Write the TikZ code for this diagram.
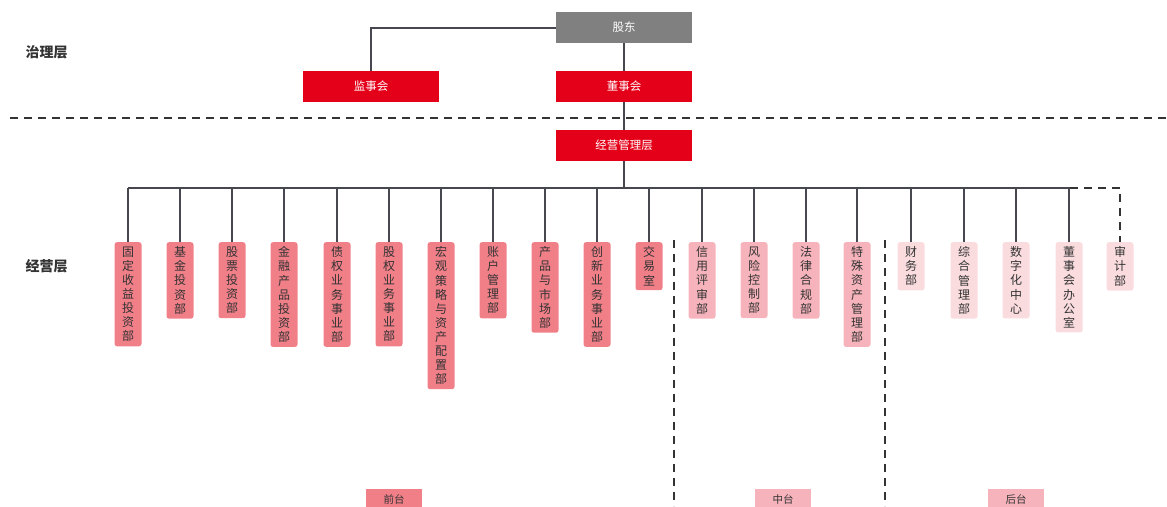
\documentclass[tikz,border=0pt]{standalone}
\usepackage{fontspec}
\newfontfamily\cjk{Noto Sans CJK SC}
\definecolor{cred}{HTML}{E50019}
\definecolor{cgray}{HTML}{808080}
\definecolor{cfront}{HTML}{F07F88}
\definecolor{cmid}{HTML}{F6B3BB}
\definecolor{cback}{HTML}{FADCDF}
\definecolor{cline}{HTML}{474750}
\definecolor{ctext}{HTML}{333333}
\tikzset{
  topbox/.style={minimum width=136pt, minimum height=31pt, inner sep=0pt, text=white, font=\cjk\fontsize{11.5}{13}\selectfont},
  dept/.style={anchor=north, rounded corners=2.5pt, minimum width=27pt, inner xsep=0pt, inner ysep=4.5pt, align=center, text=ctext, font=\cjk\fontsize{12}{14.1}\selectfont},
  conn/.style={draw=cline, line width=2pt},
  dline/.style={draw=ctext, line width=1.5pt, dash pattern=on 8pt off 6pt},
  layer/.style={font=\cjk\bfseries\fontsize{14}{16}\selectfont, text=ctext, anchor=west},
  tag/.style={minimum width=56pt, minimum height=20pt, inner sep=0pt, anchor=north, text=ctext, font=\cjk\fontsize{10.5}{12}\selectfont}
}
\begin{document}
\begin{tikzpicture}[x=1pt,y=-1pt]
\useasboundingbox (0,0) rectangle (1167,506);
% layer labels
\node[layer] (l1) at (22,52) {治理层};
\node[layer] (l2) at (22,266) {经营层};
% dashed separators
\draw[dline] (10,118) -- (1167,118);
% governance boxes
\node[topbox, fill=cgray] (gd) at (624,27.5) {股东};
\node[topbox, fill=cred] (js) at (371,86.5) {监事会};
\node[topbox, fill=cred] (ds) at (624,86.5) {董事会};
\node[topbox, fill=cred] (jy) at (624,145.5) {经营管理层};
\draw[conn] (gd.west) -| (js.north);
\draw[conn] (gd.south) -- (ds.north);
\draw[conn] (ds.south) -- (jy.north);
% bus
\coordinate (bus) at (0,188);
\coordinate (busL) at (128,188);
\coordinate (busR) at (1070,188);
\draw[conn] (jy.south) -- (jy.south |- bus);
\draw[conn] (busL) -- (busR);
% departments
\foreach \n/\x/\c/\t in {
  f1/128/cfront/{固\\定\\收\\益\\投\\资\\部},
  f2/180/cfront/{基\\金\\投\\资\\部},
  f3/232/cfront/{股\\票\\投\\资\\部},
  f4/284/cfront/{金\\融\\产\\品\\投\\资\\部},
  f5/337/cfront/{债\\权\\业\\务\\事\\业\\部},
  f6/389/cfront/{股\\权\\业\\务\\事\\业\\部},
  f7/441/cfront/{宏\\观\\策\\略\\与\\资\\产\\配\\置\\部},
  f8/493/cfront/{账\\户\\管\\理\\部},
  f9/545/cfront/{产\\品\\与\\市\\场\\部},
  f10/597/cfront/{创\\新\\业\\务\\事\\业\\部},
  f11/649/cfront/{交\\易\\室},
  m1/702/cmid/{信\\用\\评\\审\\部},
  m2/754/cmid/{风\\险\\控\\制\\部},
  m3/806/cmid/{法\\律\\合\\规\\部},
  m4/857/cmid/{特\\殊\\资\\产\\管\\理\\部},
  b1/911/cback/{财\\务\\部},
  b2/964/cback/{综\\合\\管\\理\\部},
  b3/1016/cback/{数\\字\\化\\中\\心},
  b4/1069/cback/{董\\事\\会\\办\\公\\室}}{
  \node[dept, fill=\c] (\n) at (\x,242) {\t};
  \draw[conn] (\n.north |- bus) -- (\n.north);
}
\node[dept, fill=cback] (au) at (1120,242) {审\\计\\部};
\draw[dline] (busR) -- (au.north |- bus) -- (au.north);
% section separators
\coordinate (s1t) at (674,240);
\coordinate (s1b) at (674,506);
\coordinate (s2t) at (885,240);
\coordinate (s2b) at (885,506);
\draw[dline] (s1t) -- (s1b);
\draw[dline] (s2t) -- (s2b);
% section tags
\node[tag, fill=cfront] (t1) at (394,489) {前台};
\node[tag, fill=cmid] (t2) at (783,489) {中台};
\node[tag, fill=cmid] (t3) at (1016,489) {后台};
\end{tikzpicture}
\end{document}
